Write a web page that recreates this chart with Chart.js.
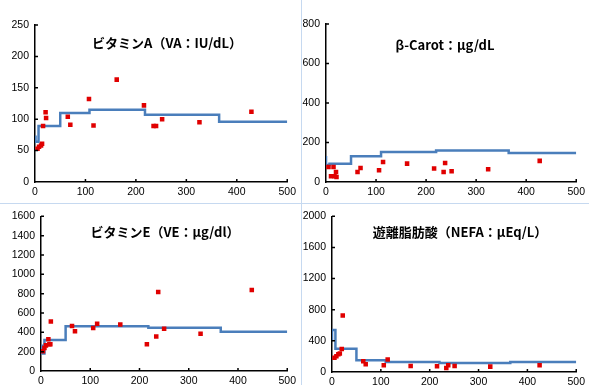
<!DOCTYPE html>
<html>
<head>
<meta charset="utf-8">
<script src="https://cdn.jsdelivr.net/npm/chart.js@4.4.1/dist/chart.umd.min.js"></script>
<style>
body{margin:0;background:#fff;width:589px;height:385px;overflow:hidden;position:relative}
canvas{position:absolute}
.sep_v{position:absolute;left:301px;top:0;width:1px;height:385px;background:#c6d9f0}
.sep_h{position:absolute;left:0;top:203px;width:589px;height:1px;background:#c6d9f0}
</style>
</head>
<body>
<div class="sep_v"></div>
<div class="sep_h"></div>
<canvas id="c_va" width="300" height="203" style="left:0;top:0"></canvas>
<canvas id="c_carot" width="288" height="203" style="left:301px;top:0"></canvas>
<canvas id="c_ve" width="300" height="181" style="left:0;top:204px"></canvas>
<canvas id="c_nefa" width="288" height="181" style="left:301px;top:204px"></canvas>
<script>
// days after calving (x axis), common to all panels
var xTicks = [0, 100, 200, 300, 400, 500];

// Vitamin A
var vaDays   = [5, 8, 12, 14, 16, 21, 22, 65, 70, 107, 116, 162, 216, 235, 240, 252, 326, 429];
var vaValues = [53, 56, 58, 61, 89, 111, 102, 104, 91, 132, 90, 163, 122, 89, 89, 100, 95, 112];
var vaStepDays   = [0, 1, 7, 50, 108, 218, 365, 500];
var vaStepValues = [72, 64, 89, 110, 115, 107, 96, 96];
var vaTicks = [0, 50, 100, 150, 200, 250];

// beta carotene
var carotDays   = [5, 10, 15, 17, 20, 21, 63, 69, 106, 114, 162, 216, 235, 238, 251, 324, 427];
var carotValues = [76, 29, 76, 29, 51, 25, 51, 71, 59, 101, 93, 68, 51, 96, 54, 64, 107];
var carotStepDays   = [0, 0, 7, 50, 110, 220, 365, 500];
var carotStepValues = [132, 86, 93, 131, 152, 160, 147, 147];
var carotTicks = [0, 200, 400, 600, 800];

// Vitamin E
var veDays   = [4, 7, 10, 15, 17, 19, 20, 63, 69, 106, 114, 161, 215, 234, 238, 250, 324, 428];
var veValues = [205, 237, 265, 329, 276, 276, 512, 466, 410, 445, 488, 480, 276, 357, 816, 438, 385, 837];
var veStepDays   = [0, 2, 7, 50, 218, 365, 500];
var veStepValues = [260, 180, 320, 462, 448, 405, 405];
var veTicks = [0, 200, 400, 600, 800, 1000, 1200, 1400, 1600];

// NEFA
var nefaDays   = [5, 9, 13, 16, 20, 22, 64, 69, 106, 114, 161, 215, 234, 238, 251, 324, 425];
var nefaValues = [182, 203, 229, 238, 294, 727, 139, 100, 87, 160, 78, 74, 52, 87, 78, 69, 87];
var nefaStepDays   = [0, 0, 7, 50, 110, 220, 365, 500];
var nefaStepValues = [400, 540, 300, 150, 130, 117, 130, 130];
var nefaTicks = [0, 400, 800, 1200, 1600, 2000];

var tickFont = {family: "'Liberation Sans', Arial, sans-serif", size: 10.5};

function fnc_pairs(xs, ys){
    var out = [];
    for(var i in xs){
        out.push({x: xs[i], y: ys[i]});
    }
    return out;
}

function fnc_plain(v){
    return String(v);
}

// short tick marks drawn inside the plot, like the original
var innerTicks = {
    id: 'innerTicks',
    afterDraw: function(chart){
        var ctx = chart.ctx, a = chart.chartArea;
        var sx = chart.scales.x, sy = chart.scales.y;
        ctx.save();
        ctx.strokeStyle = '#000';
        ctx.lineWidth = 1.5;
        ctx.beginPath();
        sx.ticks.forEach(function(t){
            if(t.value == 0) return;
            var px = sx.getPixelForValue(t.value);
            ctx.moveTo(px, a.bottom);
            ctx.lineTo(px, a.bottom - 3);
        });
        sy.ticks.forEach(function(t){
            if(t.value == 0) return;
            var py = sy.getPixelForValue(t.value);
            ctx.moveTo(a.left, py);
            ctx.lineTo(a.left + 3, py);
        });
        ctx.stroke();
        ctx.restore();
    }
};

var panelTitle = {
    id: 'panelTitle',
    afterDraw: function(chart, args, opts){
        var ctx = chart.ctx;
        ctx.save();
        ctx.font = "bold 13px 'Noto Sans CJK JP', sans-serif";
        ctx.fillStyle = '#000';
        ctx.textAlign = 'center';
        ctx.textBaseline = 'middle';
        ctx.fillText(opts.text, opts.x, opts.y);
        ctx.restore();
    }
};

function fnc_panel(id, p){
    new Chart(document.getElementById(id), {
        type: 'scatter',
        data: {
            datasets: [
                {
                    type: 'line',
                    data: fnc_pairs(p.stepDays, p.stepValues),
                    stepped: 'before',
                    borderColor: '#4a7ebb',
                    borderWidth: 2.5,
                    pointRadius: 0,
                    fill: false,
                    order: 2
                },
                {
                    data: fnc_pairs(p.days, p.values),
                    pointStyle: 'rect',
                    pointRadius: 3.2,
                    backgroundColor: '#e00000',
                    borderColor: '#e00000',
                    borderWidth: 0,
                    order: 1
                }
            ]
        },
        options: {
            responsive: false,
            animation: false,
            devicePixelRatio: 1,
            layout: {padding: {top: p.padTop, right: p.padRight, left: 0, bottom: 0}},
            plugins: {
                legend: {display: false},
                tooltip: {enabled: false},
                panelTitle: {text: p.title, x: p.titleX, y: p.titleY}
            },
            scales: {
                x: {
                    type: 'linear', min: 0, max: 500,
                    afterBuildTicks: function(s){ s.ticks = xTicks.map(function(v){ return {value: v}; }); },
                    afterFit: function(s){ s.height = p.xHeight; },
                    ticks: {font: tickFont, color: '#000', padding: 4, maxRotation: 0, callback: fnc_plain},
                    grid: {display: false, drawTicks: false},
                    border: {color: '#000', width: 1.5}
                },
                y: {
                    min: 0, max: p.ticks[p.ticks.length - 1],
                    afterBuildTicks: function(s){ s.ticks = p.ticks.map(function(v){ return {value: v}; }); },
                    afterFit: function(s){ s.width = p.yWidth; },
                    ticks: {font: tickFont, color: '#000', padding: 6, callback: fnc_plain},
                    grid: {display: false, drawTicks: false},
                    border: {color: '#000', width: 1.5}
                }
            }
        },
        plugins: [innerTicks, panelTitle]
    });
}

fnc_panel('c_va', {
    days: vaDays, values: vaValues, stepDays: vaStepDays, stepValues: vaStepValues, ticks: vaTicks,
    title: 'ビタミンA（VA：IU/dL）', titleX: 167, titleY: 43,
    yWidth: 35, xHeight: 21, padTop: 25, padRight: 12
});
fnc_panel('c_carot', {
    days: carotDays, values: carotValues, stepDays: carotStepDays, stepValues: carotStepValues, ticks: carotTicks,
    title: 'β-Carot：μg/dL', titleX: 144, titleY: 45,
    yWidth: 25, xHeight: 21, padTop: 24, padRight: 12
});
fnc_panel('c_ve', {
    days: veDays, values: veValues, stepDays: veStepDays, stepValues: veStepValues, ticks: veTicks,
    title: 'ビタミンE（VE：μg/dl）', titleX: 165, titleY: 28,
    yWidth: 41, xHeight: 14, padTop: 12, padRight: 12
});
fnc_panel('c_nefa', {
    days: nefaDays, values: nefaValues, stepDays: nefaStepDays, stepValues: nefaStepValues, ticks: nefaTicks,
    title: '遊離脂肪酸（NEFA：μEq/L）', titleX: 159, titleY: 28,
    yWidth: 31, xHeight: 13, padTop: 10, padRight: 11
});
</script>
</body>
</html>
